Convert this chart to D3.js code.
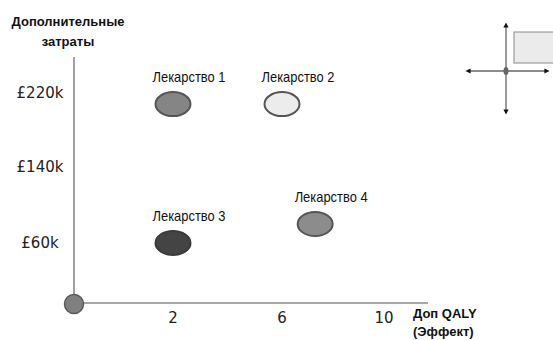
<html>
<head>
<meta charset="utf-8">
<script src="https://d3js.org/d3.v7.min.js"></script>
<style>
  body { margin: 0; background: #fff; }
  svg { display: block; }
  .tick-label { font: 15px "DejaVu Sans", sans-serif; fill: #222; }
  .drug-label { font: 14.5px "Liberation Sans", Arial, sans-serif; fill: #111; }
  .axis-title { font: bold 13px "Liberation Sans", Arial, sans-serif; fill: #111; }
</style>
</head>
<body>
<div id="chart"></div>
<script>
// chart values
const drugs = ["Лекарство 1", "Лекарство 2", "Лекарство 3", "Лекарство 4"];
const qaly = [2, 6, 2, 7.3];          // доп. QALY
const cost = [208, 208, 60, 80];      // £k
const xTicks = [2, 6, 10];
const yTicks = [60, 140, 220];
const yTitle = ["Дополнительные", "затраты"];
const xTitle = ["Доп QALY", "(Эффект)"];

// styles, kept apart from data
const drugFill = ["#858585", "#ececec", "#444444", "#8c8c8c"];
const drugStroke = ["#555", "#555", "#3a3a3a", "#555"];

const W = 553, H = 340;
const svg = d3.select("#chart").append("svg").attr("width", W).attr("height", H);

// the slide's axis is not evenly spaced, so piecewise scales
const x = d3.scaleLinear().domain([0, 2, 6, 10]).range([74, 173, 282, 384]);
const y = d3.scaleLinear().domain([0, 60, 140, 220]).range([303, 243, 167, 93]);

const axisColor = "#8a8a8a";

// y axis line
svg.append("line")
  .attr("x1", x(0)).attr("x2", x(0))
  .attr("y1", 57).attr("y2", y(0))
  .attr("stroke", axisColor).attr("stroke-width", 1.6);

// x axis line
svg.append("line")
  .attr("x1", x(0)).attr("x2", 428)
  .attr("y1", y(0)).attr("y2", y(0))
  .attr("stroke", axisColor).attr("stroke-width", 1.6);

// origin marker
svg.append("circle")
  .attr("cx", x(0)).attr("cy", y(0) + 1).attr("r", 9.5)
  .attr("fill", "#808080").attr("stroke", "#5a5a5a").attr("stroke-width", 1.5);

// tick labels
svg.selectAll(".ytick").data(yTicks).join("text")
  .attr("class", "tick-label")
  .attr("x", 40).attr("y", d => y(d))
  .attr("text-anchor", "middle").attr("dominant-baseline", "central")
  .text(d => "£" + d + "k");

svg.selectAll(".xtick").data(xTicks).join("text")
  .attr("class", "tick-label")
  .attr("x", d => x(d)).attr("y", 318)
  .attr("text-anchor", "middle").attr("dominant-baseline", "central")
  .text(d => d);

// axis titles
svg.append("text").attr("class", "axis-title")
  .attr("text-anchor", "middle")
  .selectAll("tspan").data(yTitle).join("tspan")
  .attr("x", 68).attr("y", (d, i) => 26 + i * 20)
  .text(d => d);

svg.append("text").attr("class", "axis-title")
  .selectAll("tspan").data(xTitle).join("tspan")
  .attr("x", 413).attr("y", (d, i) => 318 + i * 18)
  .text(d => d);

// drugs
const g = svg.selectAll(".drug").data(drugs).join("g").attr("class", "drug");
g.append("ellipse")
  .attr("cx", (d, i) => x(qaly[i]))
  .attr("cy", (d, i) => y(cost[i]))
  .attr("rx", 17.5).attr("ry", 12)
  .attr("fill", (d, i) => drugFill[i])
  .attr("stroke", (d, i) => drugStroke[i])
  .attr("stroke-width", 2);
// the slide font is condensed, squeeze the labels to its width
g.append("text")
  .attr("class", "drug-label")
  .attr("x", (d, i) => x(qaly[i]) + 16)
  .attr("y", (d, i) => y(cost[i]) - 27)
  .attr("text-anchor", "middle").attr("dominant-baseline", "central")
  .attr("textLength", 73).attr("lengthAdjust", "spacingAndGlyphs")
  .text(d => d);

// small quadrant icon, top right
const icon = svg.append("g");
const defs = svg.append("defs");
defs.append("marker")
  .attr("id", "arr").attr("viewBox", "0 0 10 10")
  .attr("refX", 5).attr("refY", 5)
  .attr("markerWidth", 4).attr("markerHeight", 4)
  .attr("orient", "auto-start-reverse")
  .append("path").attr("d", "M0,0L10,5L0,10Z").attr("fill", "#111");

icon.append("rect")
  .attr("x", 514).attr("y", 32).attr("width", 45).attr("height", 31)
  .attr("fill", "#ebebeb").attr("stroke", "#8a8a8a").attr("stroke-width", 1);
icon.append("line")
  .attr("x1", 506).attr("x2", 506).attr("y1", 25).attr("y2", 112)
  .attr("stroke", "#666").attr("stroke-width", 1.3)
  .attr("marker-start", "url(#arr)").attr("marker-end", "url(#arr)");
icon.append("line")
  .attr("x1", 468).attr("x2", 547).attr("y1", 71).attr("y2", 71)
  .attr("stroke", "#666").attr("stroke-width", 1.3)
  .attr("marker-start", "url(#arr)").attr("marker-end", "url(#arr)");
icon.append("ellipse")
  .attr("cx", 506).attr("cy", 71).attr("rx", 2.5).attr("ry", 4)
  .attr("fill", "#666");
</script>
</body>
</html>
